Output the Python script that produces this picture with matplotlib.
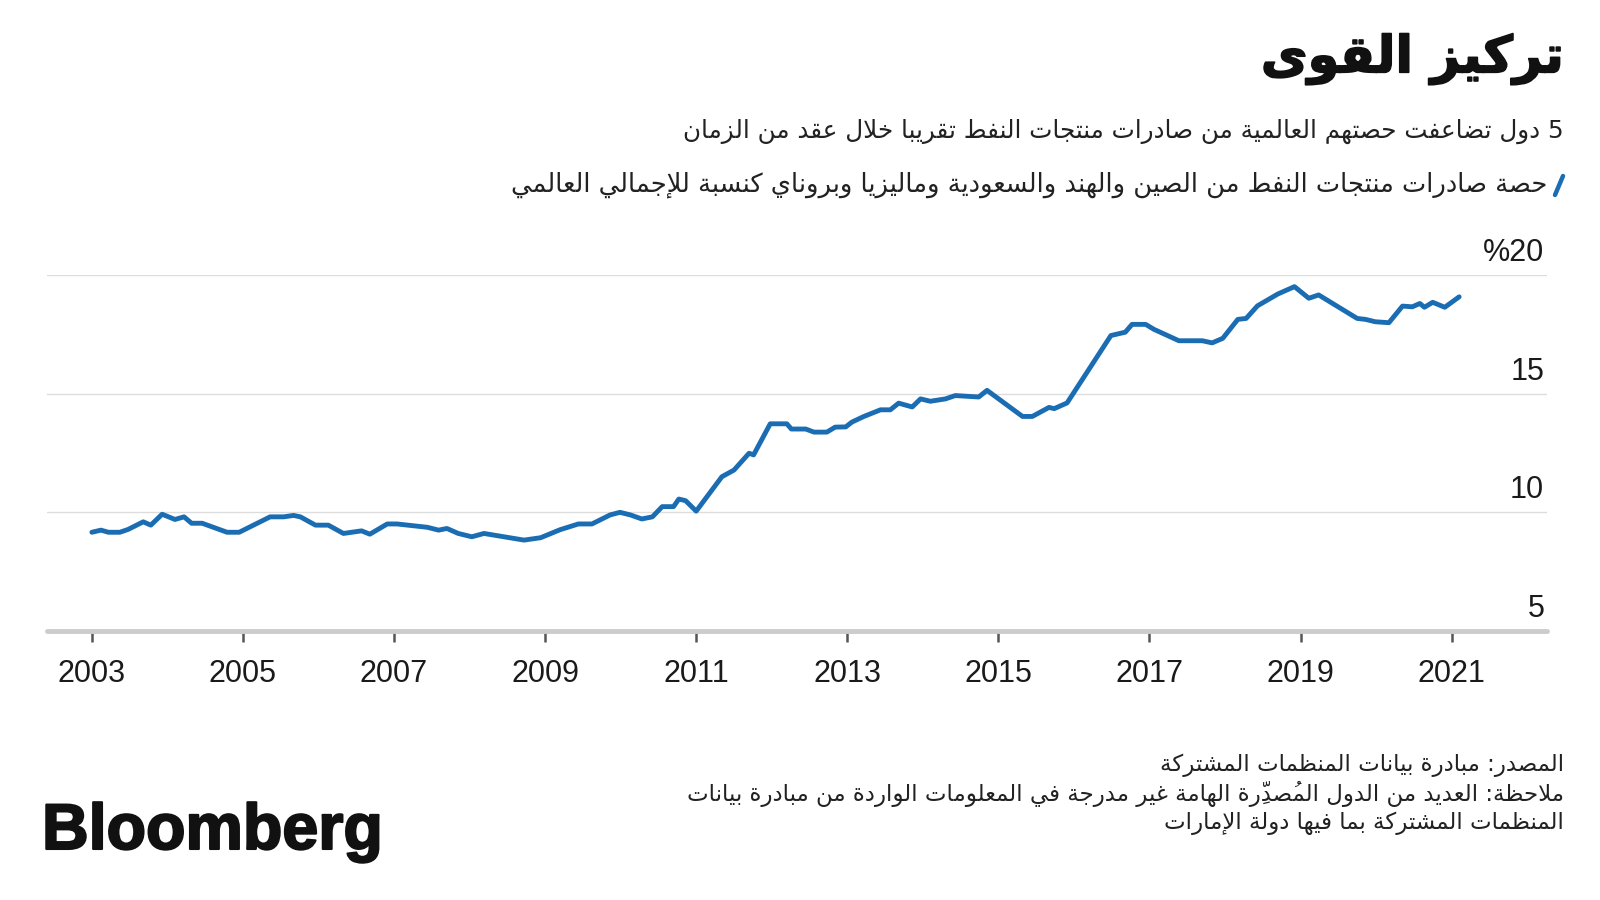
import re
import matplotlib
matplotlib.use('Agg')
import matplotlib.pyplot as plt
import matplotlib.patheffects as pe
from matplotlib.lines import Line2D

# ---- data (share of world oil-product exports, %) ----
years = [2003.00, 2003.12, 2003.22, 2003.37, 2003.48, 2003.68, 2003.78, 2003.93,
         2004.10, 2004.22, 2004.32, 2004.46, 2004.79, 2004.95, 2005.36, 2005.54,
         2005.67, 2005.76, 2005.96, 2006.13, 2006.33, 2006.57, 2006.68, 2006.91,
         2007.04, 2007.44, 2007.59, 2007.70, 2007.85, 2008.03, 2008.19, 2008.72,
         2008.94, 2009.20, 2009.44, 2009.62, 2009.86, 2009.99, 2010.13, 2010.28,
         2010.42, 2010.55, 2010.70, 2010.77, 2010.86, 2011.00, 2011.34, 2011.50,
         2011.70, 2011.76, 2011.98, 2012.20, 2012.26, 2012.45, 2012.56, 2012.73,
         2012.84, 2012.98, 2013.06, 2013.22, 2013.44, 2013.57, 2013.68, 2013.86,
         2013.97, 2014.10, 2014.30, 2014.43, 2014.74, 2014.85, 2015.32, 2015.45,
         2015.67, 2015.74, 2015.91, 2016.49, 2016.68, 2016.77, 2016.95, 2017.06,
         2017.39, 2017.70, 2017.83, 2017.97, 2018.17, 2018.28, 2018.43, 2018.70,
         2018.92, 2019.11, 2019.24, 2019.75, 2019.86, 2019.99, 2020.17, 2020.35,
         2020.48, 2020.58, 2020.64, 2020.75, 2020.91, 2021.10]
share = [9.16, 9.25, 9.16, 9.16, 9.28, 9.60, 9.46, 9.92,
         9.70, 9.81, 9.54, 9.54, 9.16, 9.16, 9.81, 9.81,
         9.87, 9.81, 9.46, 9.46, 9.11, 9.22, 9.08, 9.51,
         9.51, 9.37, 9.25, 9.32, 9.11, 8.97, 9.11, 8.83,
         8.93, 9.27, 9.51, 9.51, 9.89, 10.00, 9.89, 9.72,
         9.81, 10.24, 10.24, 10.56, 10.49, 10.05, 11.50, 11.78,
         12.49, 12.42, 13.73, 13.73, 13.51, 13.51, 13.38, 13.38,
         13.59, 13.60, 13.80, 14.04, 14.32, 14.32, 14.60, 14.44,
         14.78, 14.68, 14.78, 14.92, 14.86, 15.14, 14.04, 14.04,
         14.42, 14.37, 14.61, 17.45, 17.59, 17.92, 17.92, 17.71,
         17.23, 17.23, 17.14, 17.33, 18.13, 18.17, 18.70, 19.20,
         19.51, 19.02, 19.16, 18.17, 18.13, 18.03, 17.99, 18.69,
         18.66, 18.80, 18.64, 18.85, 18.64, 19.08]

tick_years = [2003, 2005, 2007, 2009, 2011, 2013, 2015, 2017, 2019, 2021]
y_ticks = [5, 10, 15, 20]
y_labels = ['5', '10', '15', '%20']

title = 'تركيز القوى'
subtitle = '5 دول تضاعفت حصتهم العالمية من صادرات منتجات النفط تقريبا خلال عقد من الزمان'
legend_label = 'حصة صادرات منتجات النفط من الصين والهند والسعودية وماليزيا وبروناي كنسبة للإجمالي العالمي'
source = 'المصدر: مبادرة بيانات المنظمات المشتركة'
note_1 = 'ملاحظة: العديد من الدول المُصدِّرة الهامة غير مدرجة في المعلومات الواردة من مبادرة بيانات'
note_2 = 'المنظمات المشتركة بما فيها دولة الإمارات'

BLUE = '#1a6db3'


# ---- minimal Arabic shaping (matplotlib has no complex text layout) ----
FORMS = {
    'ء': (0xFE80, 1), 'آ': (0xFE81, 2), 'أ': (0xFE83, 2), 'ؤ': (0xFE85, 2),
    'إ': (0xFE87, 2), 'ئ': (0xFE89, 4), 'ا': (0xFE8D, 2), 'ب': (0xFE8F, 4),
    'ة': (0xFE93, 2), 'ت': (0xFE95, 4), 'ث': (0xFE99, 4), 'ج': (0xFE9D, 4),
    'ح': (0xFEA1, 4), 'خ': (0xFEA5, 4), 'د': (0xFEA9, 2), 'ذ': (0xFEAB, 2),
    'ر': (0xFEAD, 2), 'ز': (0xFEAF, 2), 'س': (0xFEB1, 4), 'ش': (0xFEB5, 4),
    'ص': (0xFEB9, 4), 'ض': (0xFEBD, 4), 'ط': (0xFEC1, 4), 'ظ': (0xFEC5, 4),
    'ع': (0xFEC9, 4), 'غ': (0xFECD, 4), 'ف': (0xFED1, 4), 'ق': (0xFED5, 4),
    'ك': (0xFED9, 4), 'ل': (0xFEDD, 4), 'م': (0xFEE1, 4), 'ن': (0xFEE5, 4),
    'ه': (0xFEE9, 4), 'و': (0xFEED, 2), 'ى': (0xFEEF, 2), 'ي': (0xFEF1, 4),
}
LAM_ALEF = {'آ': 0xFEF5, 'أ': 0xFEF7, 'إ': 0xFEF9, 'ا': 0xFEFB}
MARKS = set(chr(c) for c in range(0x064B, 0x0653))


def ar(text):
    clusters = []
    for ch in text:
        if ch in MARKS and clusters:
            clusters[-1][1] += ch
        else:
            clusters.append([ch, ''])
    merged = []
    i = 0
    while i < len(clusters):
        b, m = clusters[i]
        if b == 'ل' and i + 1 < len(clusters) and clusters[i + 1][0] in LAM_ALEF:
            merged.append(['LA' + clusters[i + 1][0], m + clusters[i + 1][1]])
            i += 2
        else:
            merged.append([b, m])
            i += 1

    def links_fwd(c):
        return c in FORMS and FORMS[c][1] == 4

    def links_back(c):
        return c.startswith('LA') or (c in FORMS and FORMS[c][1] > 1)

    out = []
    for i, (b, m) in enumerate(merged):
        prev_ok = i > 0 and links_fwd(merged[i - 1][0])
        next_ok = i + 1 < len(merged) and links_back(merged[i + 1][0])
        if b.startswith('LA'):
            g = chr(LAM_ALEF[b[2]] + (1 if prev_ok else 0))
        elif b in FORMS:
            start, n = FORMS[b]
            if n == 1:
                g = chr(start)
            elif n == 2:
                g = chr(start + (1 if prev_ok else 0))
            else:
                idx = 3 if (prev_ok and next_ok) else 1 if prev_ok else 2 if next_ok else 0
                g = chr(start + idx)
        else:
            g = b
        # zero-width marks draw to the right of the pen, so put them first
        out.append(m + g)
    vis = ''.join(out[::-1])
    # keep digit / latin runs left-to-right
    return re.sub(r'[0-9A-Za-z%.]+', lambda mm: mm.group()[::-1], vis)


plt.rcParams['font.family'] = ['Liberation Sans', 'DejaVu Sans']

fig = plt.figure(figsize=(16, 9), dpi=100)
ax = fig.add_axes([47 / 1600, 1 - 631 / 900, 1500 / 1600, 356 / 900])

ax.plot(years, share, color=BLUE, lw=3.5, solid_joinstyle='round', solid_capstyle='round',
        zorder=3, clip_on=False)

ax.set_xlim(2002.406, 2022.263)
ax.set_ylim(5, 20)
ax.set_xticks(tick_years)
ax.set_xticklabels([str(y) for y in tick_years])
ax.set_yticks(y_ticks)
ax.set_yticklabels([])
ax.tick_params(axis='y', length=0)
ax.tick_params(axis='x', length=8, width=1.8, color='#555555', pad=12,
               labelsize=22, labelcolor='#1a1a1a')
ax.grid(axis='y', color='#dddddd', lw=1)
ax.set_axisbelow(True)
for s in ['top', 'left', 'right']:
    ax.spines[s].set_visible(False)
ax.spines['bottom'].set_color('#cccccc')
ax.spines['bottom'].set_linewidth(3.5)
ax.spines['bottom'].set_capstyle('round')

for v, lab in zip(y_ticks, y_labels):
    ax.annotate(lab, xy=(1.0, v), xycoords=('axes fraction', 'data'),
                xytext=(-2, 10), textcoords='offset points',
                ha='right', va='baseline', fontsize=22, color='#1a1a1a')

# ---- header ----
ar_font = ['DejaVu Sans']
RX = 1564 / 1600
t_title = fig.text(RX, 1 - 59 / 900, ar(title), ha='right', va='center',
                   family=ar_font, fontweight='bold', fontsize=36, color='#111111',
                   path_effects=[pe.withStroke(linewidth=1.2, foreground='#111111')])
t_sub = fig.text(RX, 1 - 131 / 900, ar(subtitle), ha='right', va='center',
                 family=ar_font, fontsize=18, color='#222222')
t_leg = fig.text(1547 / 1600, 1 - 185 / 900, ar(legend_label), ha='right', va='center',
                 family=ar_font, fontsize=18, color='#222222')
fig.add_artist(Line2D([1555 / 1600, 1563 / 1600], [1 - 195 / 900, 1 - 176 / 900],
                      color=BLUE, lw=3.2, solid_capstyle='round'))

# ---- footer ----
t_src = fig.text(RX, 1 - 765 / 900, ar(source), ha='right', va='center',
                 family=ar_font, fontsize=16, color='#222222')
t_n1 = fig.text(RX, 1 - 794 / 900, ar(note_1), ha='right', va='center',
                family=ar_font, fontsize=16, color='#222222')
t_n2 = fig.text(RX, 1 - 823 / 900, ar(note_2), ha='right', va='center',
                family=ar_font, fontsize=16, color='#222222')
fig.text(42 / 1600, 1 - 849 / 900, 'Bloomberg', ha='left', va='baseline',
         fontsize=46.5, fontweight='bold', color='#111111',
         path_effects=[pe.withStroke(linewidth=1.5, foreground='#111111')])

# scale the Arabic lines so their widths match the original layout
r = fig.canvas.get_renderer()


def fit(t, target):
    w = t.get_window_extent(r).width
    t.set_fontsize(t.get_fontsize() * target / w)


fit(t_title, 303)
fit(t_sub, 881)
fit(t_leg, 1037)
fit(t_n1, 881)
for t in (t_src, t_n2):
    t.set_fontsize(t_n1.get_fontsize())

fig.savefig('out.png', dpi=100, facecolor='white')
